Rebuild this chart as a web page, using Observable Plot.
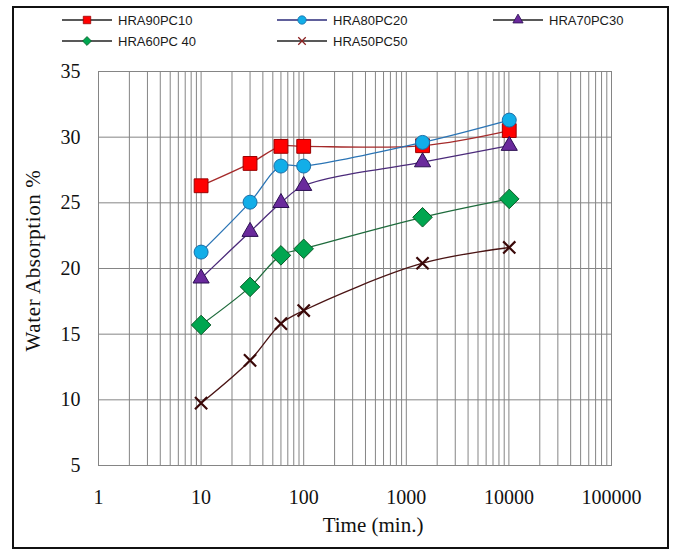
<!DOCTYPE html>
<html>
<head>
<meta charset="utf-8">
<script src="https://cdn.jsdelivr.net/npm/d3@7"></script>
<script src="https://cdn.jsdelivr.net/npm/@observablehq/plot@0.6"></script>
<style>
  body { margin: 0; background: #fff; }
  #wrap { position: relative; width: 675px; height: 551px; overflow: hidden; background: #fff; }
  #legend { position: absolute; left: 0; top: 0; width: 675px; height: 55px;
    font-family: "Liberation Sans", Arial, sans-serif; font-size: 13px; color: #1a1a1a; }
  .item { position: absolute; height: 16px; display: flex; align-items: center; }
  .item svg { display: block; margin-right: 6px; }
  #chart { position: absolute; left: 0; top: 55px; }
  #frame { position: absolute; left: 12px; top: 6px; width: 657px; height: 543px;
    border: 2px solid #111; box-sizing: border-box; pointer-events: none; }
</style>
</head>
<body>
<div id="wrap">
  <div id="legend"></div>
  <div id="chart"></div>
  <div id="frame"></div>
</div>
<script>
// ---- data ----
const times = [10, 30, 60, 100, 1440, 10080];
const seriesNames = ["HRA90PC10", "HRA80PC20", "HRA70PC30", "HRA60PC 40", "HRA50PC50"];
const hra90pc10 = [26.3, 28.0, 29.3, 29.3, 29.35, 30.5];
const hra80pc20 = [21.25, 25.05, 27.8, 27.8, 29.6, 31.3];
const hra70pc30 = [19.25, 22.8, 25.0, 26.3, 28.1, 29.35];
const hra60pc40 = [15.7, 18.6, 21.0, 21.5, 23.9, 25.3];
const hra50pc50 = [9.75, 13.0, 15.8, 16.8, 20.4, 21.6];
const xTicks = [1, 10, 100, 1000, 10000, 100000];
const yTicks = [5, 10, 15, 20, 25, 30, 35];

// ---- styles ----
const seriesValues = [hra90pc10, hra80pc20, hra70pc30, hra60pc40, hra50pc50];
const symbols = ["square", "circle", "triangle", "diamond2", "times"];
const fills = ["#ff0000", "#12aee8", "#6a2a9c", "#00a650", "none"];
const strokes = ["#9a0000", "#1b6fa8", "#2b0f52", "#0b5a28", "#3a0808"];
const lineColors = ["#a52a2a", "#2a74b5", "#4b2a7a", "#1e6b3c", "#4a1414"];
const legendLineColors = ["#222", "#2b2b7a", "#222", "#222", "#222"];
const radii = [7.8, 7, 6, 8.8, 5.6];
const legendR = [4.2, 4.2, 3.8, 4, 3.5];

// minor log gridlines (scale ticks)
const minorGrid = [];
for (let k = 0; k < 5; k++) for (let m = 1; m < 10; m++) minorGrid.push(m * Math.pow(10, k));
minorGrid.push(100000);

const tables = seriesValues.map(vals => times.map((t, i) => ({t, v: vals[i]})));

const seriesMarks = [];
tables.forEach((rows, s) => {
  seriesMarks.push(Plot.line(rows, {x: "t", y: "v", curve: "catmull-rom", stroke: lineColors[s], strokeWidth: 1.3}));
  if (symbols[s] === "times") {
    seriesMarks.push(Plot.dot(rows, {x: "t", y: "v", symbol: "times", r: radii[s], stroke: strokes[s], strokeWidth: 2.2}));
  } else {
    seriesMarks.push(Plot.dot(rows, {x: "t", y: "v", symbol: symbols[s], r: radii[s], fill: fills[s], stroke: strokes[s], strokeWidth: 1}));
  }
});

const chart = Plot.plot({
  width: 675,
  height: 496,
  marginLeft: 98,
  marginRight: 64,
  marginTop: 16,
  marginBottom: 86,
  style: {background: "transparent", fontFamily: "'Liberation Serif', 'Times New Roman', serif", fontSize: "20px", color: "#111"},
  x: {type: "log", domain: [1, 100000]},
  y: {domain: [5, 35]},
  marks: [
    Plot.ruleX(minorGrid, {stroke: "#858585", strokeWidth: 1}),
    Plot.ruleY(yTicks, {stroke: "#858585", strokeWidth: 1}),
    Plot.frame({stroke: "#858585"}),
    Plot.axisX(xTicks, {tickSize: 0, tickPadding: 24, tickFormat: d => String(d), fontSize: 20, label: null}),
    Plot.axisY(yTicks, {tickSize: 0, tickPadding: 18, fontSize: 20, label: null}),
    ...seriesMarks,
    Plot.text(["Water Absorption %"], {frameAnchor: "left", text: d => d, textAnchor: "middle", lineAnchor: "middle", dx: -65, dy: -8, rotate: -90, fontSize: 21, fill: "#111"}),
    Plot.text(["Time (min.)"], {frameAnchor: "bottom", text: d => d, textAnchor: "middle", lineAnchor: "middle", dx: 18, dy: 60, fontSize: 21, fill: "#111"})
  ]
});
chart.querySelectorAll("text").forEach(t => {
  if (t.textContent === "Water Absorption %") t.style.letterSpacing = "0.6px";
});
document.getElementById("chart").appendChild(chart);

// ---- legend ----
const legend = d3.select("#legend");
const legendPos = [[62, 20], [277, 20], [493, 20], [62, 41], [277, 41]];
const typeMap = {square: d3.symbolSquare, circle: d3.symbolCircle, triangle: d3.symbolTriangle, diamond2: d3.symbolDiamond2, times: d3.symbolTimes};
seriesNames.forEach((name, s) => {
  const [lx, ly] = legendPos[s];
  const item = legend.append("div").attr("class", "item").style("left", lx + "px").style("top", (ly - 8) + "px");
  const svg = item.append("svg").attr("width", 50).attr("height", 16);
  svg.append("line").attr("x1", 0).attr("x2", 50).attr("y1", 8).attr("y2", 8)
    .attr("stroke", legendLineColors[s]).attr("stroke-width", 1.3);
  const r = legendR[s];
  const p = svg.append("path").attr("transform", "translate(25,8)")
    .attr("d", d3.symbol(typeMap[symbols[s]], Math.PI * r * r)());
  if (symbols[s] === "times") p.attr("fill", "none").attr("stroke", "#8a2020").attr("stroke-width", 1.3);
  else p.attr("fill", fills[s]).attr("stroke", strokes[s]).attr("stroke-width", 0.8);
  item.append("span").text(name);
});
</script>
</body>
</html>
